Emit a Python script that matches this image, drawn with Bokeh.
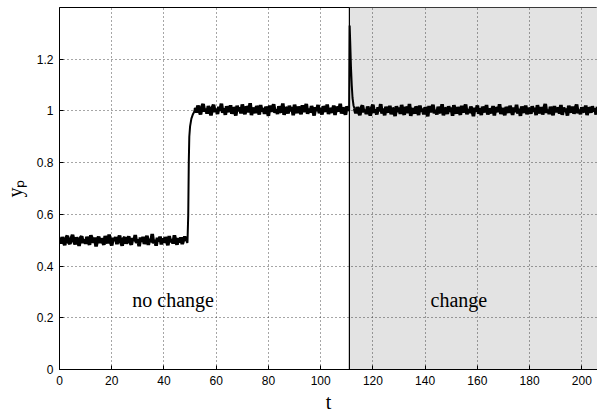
from bokeh.plotting import figure
from bokeh.models import BoxAnnotation, Span, Label, FixedTicker, Range1d
from bokeh.embed import file_html
from bokeh.resources import INLINE

# ---- data ----
change_t = 111.0
x_ticks = [0, 20, 40, 60, 80, 100, 120, 140, 160, 180, 200]
y_ticks = [0, 0.2, 0.4, 0.6, 0.8, 1.0, 1.2]
y_tick_labels = {0: "0", 0.2: "0.2", 0.4: "0.4", 0.6: "0.6", 0.8: "0.8", 1.0: "1", 1.2: "1.2"}

# before the step (t = 0 .. 48.5, every 0.5)
y_a = [0.503, 0.488, 0.512, 0.495, 0.481, 0.509, 0.517, 0.492, 0.486, 0.506,
       0.521, 0.497, 0.484, 0.511, 0.499, 0.478, 0.508, 0.515, 0.490, 0.502,
       0.487, 0.513, 0.496, 0.482, 0.519, 0.505, 0.491, 0.510, 0.476, 0.500,
       0.514, 0.489, 0.507, 0.493, 0.483, 0.516, 0.501, 0.488, 0.522, 0.494,
       0.480, 0.509, 0.498, 0.512, 0.485, 0.504, 0.518, 0.492, 0.479, 0.506,
       0.511, 0.487, 0.500, 0.515, 0.491, 0.483, 0.508, 0.496, 0.520, 0.489,
       0.503, 0.477, 0.510, 0.494, 0.513, 0.486, 0.499, 0.517, 0.482, 0.505,
       0.492, 0.524, 0.488, 0.501, 0.479, 0.509, 0.495, 0.514, 0.484, 0.507,
       0.490, 0.512, 0.498, 0.481, 0.516, 0.493, 0.504, 0.487, 0.519, 0.496,
       0.483, 0.508, 0.491, 0.511, 0.485, 0.502, 0.514, 0.497]
# the step
t_step = [49.0, 49.3, 49.5, 49.7, 50.0, 50.5, 51.0, 51.5]
y_step = [0.49, 0.60, 0.80, 0.90, 0.94, 0.97, 0.985, 0.995]
# settled (t = 52 .. 110.5, every 0.5)
y_b = [1.012, 0.994, 1.021, 1.003, 0.986, 1.015, 1.027, 0.998, 1.008, 0.990,
       1.019, 1.005, 0.983, 1.011, 1.024, 0.996, 1.007, 0.988, 1.016, 1.001,
       1.028, 0.993, 1.010, 0.985, 1.018, 1.004, 0.997, 1.022, 0.989, 1.013,
       1.006, 0.982, 1.020, 0.999, 1.014, 0.991, 1.025, 1.002, 0.987, 1.017,
       1.009, 0.995, 1.030, 0.984, 1.012, 1.003, 0.992, 1.019, 1.007, 0.986,
       1.023, 0.998, 1.011, 0.989, 1.016, 1.004, 0.981, 1.021, 0.997, 1.010,
       1.026, 0.993, 1.006, 0.988, 1.018, 1.001, 0.995, 1.029, 0.985, 1.013,
       1.008, 0.990, 1.020, 0.999, 1.015, 0.983, 1.024, 1.005, 0.992, 1.017,
       1.002, 0.987, 1.022, 0.996, 1.011, 1.027, 0.989, 1.009, 0.994, 1.019,
       1.004, 0.982, 1.014, 1.000, 1.023, 0.991, 1.012, 0.986, 1.018, 1.006,
       0.997, 1.025, 0.988, 1.010, 1.003, 0.993, 1.021, 0.984, 1.016, 1.007,
       0.999, 1.028, 0.990, 1.013, 1.001, 0.985, 1.017, 1.008]
# spike at the change
t_spike = [110.9, 111.1, 111.3, 111.6, 111.9, 112.2, 112.6]
y_spike = [1.00, 1.33, 1.27, 1.17, 1.10, 1.05, 1.02]
# after the change (t = 113 .. 206, every 0.5)
y_c = [1.008, 0.991, 1.015, 0.997, 0.984, 1.012, 1.021, 0.995, 1.004, 0.988,
       1.017, 1.001, 0.982, 1.010, 1.024, 0.993, 1.006, 0.986, 1.014, 0.999,
       1.026, 0.990, 1.009, 0.983, 1.016, 1.003, 0.994, 1.020, 0.987, 1.011,
       1.005, 0.980, 1.018, 0.996, 1.013, 0.989, 1.023, 1.000, 0.985, 1.015,
       1.007, 0.992, 1.027, 0.981, 1.010, 1.002, 0.990, 1.017, 1.006, 0.984,
       1.021, 0.997, 1.009, 0.987, 1.014, 1.003, 0.979, 1.019, 0.995, 1.008,
       1.024, 0.991, 1.004, 0.986, 1.016, 0.999, 0.993, 1.026, 0.983, 1.011,
       1.006, 0.988, 1.018, 0.997, 1.013, 0.981, 1.022, 1.003, 0.990, 1.015,
       1.000, 0.985, 1.020, 0.994, 1.009, 1.025, 0.987, 1.007, 0.992, 1.017,
       1.002, 0.980, 1.012, 0.998, 1.021, 0.989, 1.010, 0.984, 1.016, 1.004,
       0.995, 1.023, 0.986, 1.008, 1.001, 0.991, 1.019, 0.982, 1.014, 1.005,
       0.997, 1.026, 0.988, 1.011, 0.999, 0.983, 1.015, 1.006, 0.993, 1.020,
       1.003, 0.985, 1.013, 0.996, 1.024, 0.990, 1.008, 0.981, 1.017, 1.002,
       0.994, 1.021, 0.987, 1.010, 1.005, 0.989, 1.018, 0.997, 1.012, 0.984,
       1.022, 1.000, 0.992, 1.015, 0.986, 1.009, 1.027, 0.993, 1.004, 0.988,
       1.016, 1.001, 0.983, 1.019, 0.995, 1.011, 1.006, 0.990, 1.023, 0.985,
       1.013, 0.998, 1.008, 0.982, 1.020, 1.003, 0.994, 1.017, 0.989, 1.010,
       1.025, 0.991, 1.005, 0.987, 1.014, 1.000, 0.996, 1.021, 0.984, 1.012,
       1.007, 0.993, 1.018, 0.999, 1.009, 0.986, 1.016]

t_a = [0.5 * i for i in range(len(y_a))]
t_b = [52 + 0.5 * i for i in range(len(y_b))]
t_c = [113 + 0.5 * i for i in range(len(y_c))]

# ---- figure ----
p = figure(frame_width=538, frame_height=362, output_backend="svg",
           toolbar_location=None, min_border_left=50, min_border_top=7,
           min_border_right=0, min_border_bottom=10,
           x_range=Range1d(0, 206), y_range=Range1d(0, 1.4))
p.background_fill_color = "white"
p.border_fill_color = "white"
p.outline_line_color = "black"
p.outline_line_width = 1

shade = BoxAnnotation(left=change_t, fill_color="#e3e3e3", fill_alpha=1.0,
                      line_alpha=0, level="image")
p.add_layout(shade)

# noisy plateaus (thick, like the dense noise band)
for tt, yy in ((t_a, y_a), (t_b, y_b), (t_c, y_c)):
    p.line(tt, yy, line_color="black", line_width=3.6)
# fast transitions (thin)
p.line([t_a[-1]] + t_step + [t_b[0]], [y_a[-1]] + y_step + [y_b[0]],
       line_color="black", line_width=2.0)
p.line([t_b[-1]] + t_spike + [t_c[0]], [y_b[-1]] + y_spike + [y_c[0]],
       line_color="black", line_width=2.0)

p.add_layout(Span(location=change_t, dimension="height",
                  line_color="black", line_width=1.2))

xax = p.below[0]
yax = p.left[0]
for ax in (xax, yax):
    ax.major_tick_in = 4
    ax.major_tick_out = 0
    ax.minor_tick_in = 0
    ax.minor_tick_out = 0
    ax.axis_line_color = "black"
    ax.major_tick_line_color = "black"
    ax.major_label_text_font = "Liberation Sans"
    ax.major_label_text_font_size = "12px"
    ax.major_label_text_color = "black"
    ax.axis_label_text_font = "Liberation Serif"
    ax.axis_label_text_font_style = "normal"
    ax.axis_label_text_font_size = "20px"
    ax.axis_label_text_color = "black"

xax.ticker = FixedTicker(ticks=x_ticks)
yax.ticker = FixedTicker(ticks=y_ticks)
yax.major_label_overrides = y_tick_labels
xax.axis_label = "t"
yax.axis_label = "yₚ"
xax.major_label_standoff = 6
yax.major_label_standoff = 6
xax.axis_label_standoff = 3
yax.axis_label_standoff = 8

for g in (p.xgrid[0], p.ygrid[0]):
    g.grid_line_color = "#222222"
    g.grid_line_dash = "1 3"
    g.grid_line_width = 1
    g.grid_line_alpha = 0.8
p.xgrid.ticker = FixedTicker(ticks=x_ticks)
p.ygrid.ticker = FixedTicker(ticks=y_ticks)

p.add_layout(Label(x=43.5, y=0.267, text="no change", text_align="center",
                   text_baseline="alphabetic", text_font="Liberation Serif",
                   text_font_size="20px", text_color="black"))
p.add_layout(Label(x=152.9, y=0.267, text="change", text_align="center",
                   text_baseline="alphabetic", text_font="Liberation Serif",
                   text_font_size="20px", text_color="black"))

open("out.html", "w").write(file_html(p, INLINE))
